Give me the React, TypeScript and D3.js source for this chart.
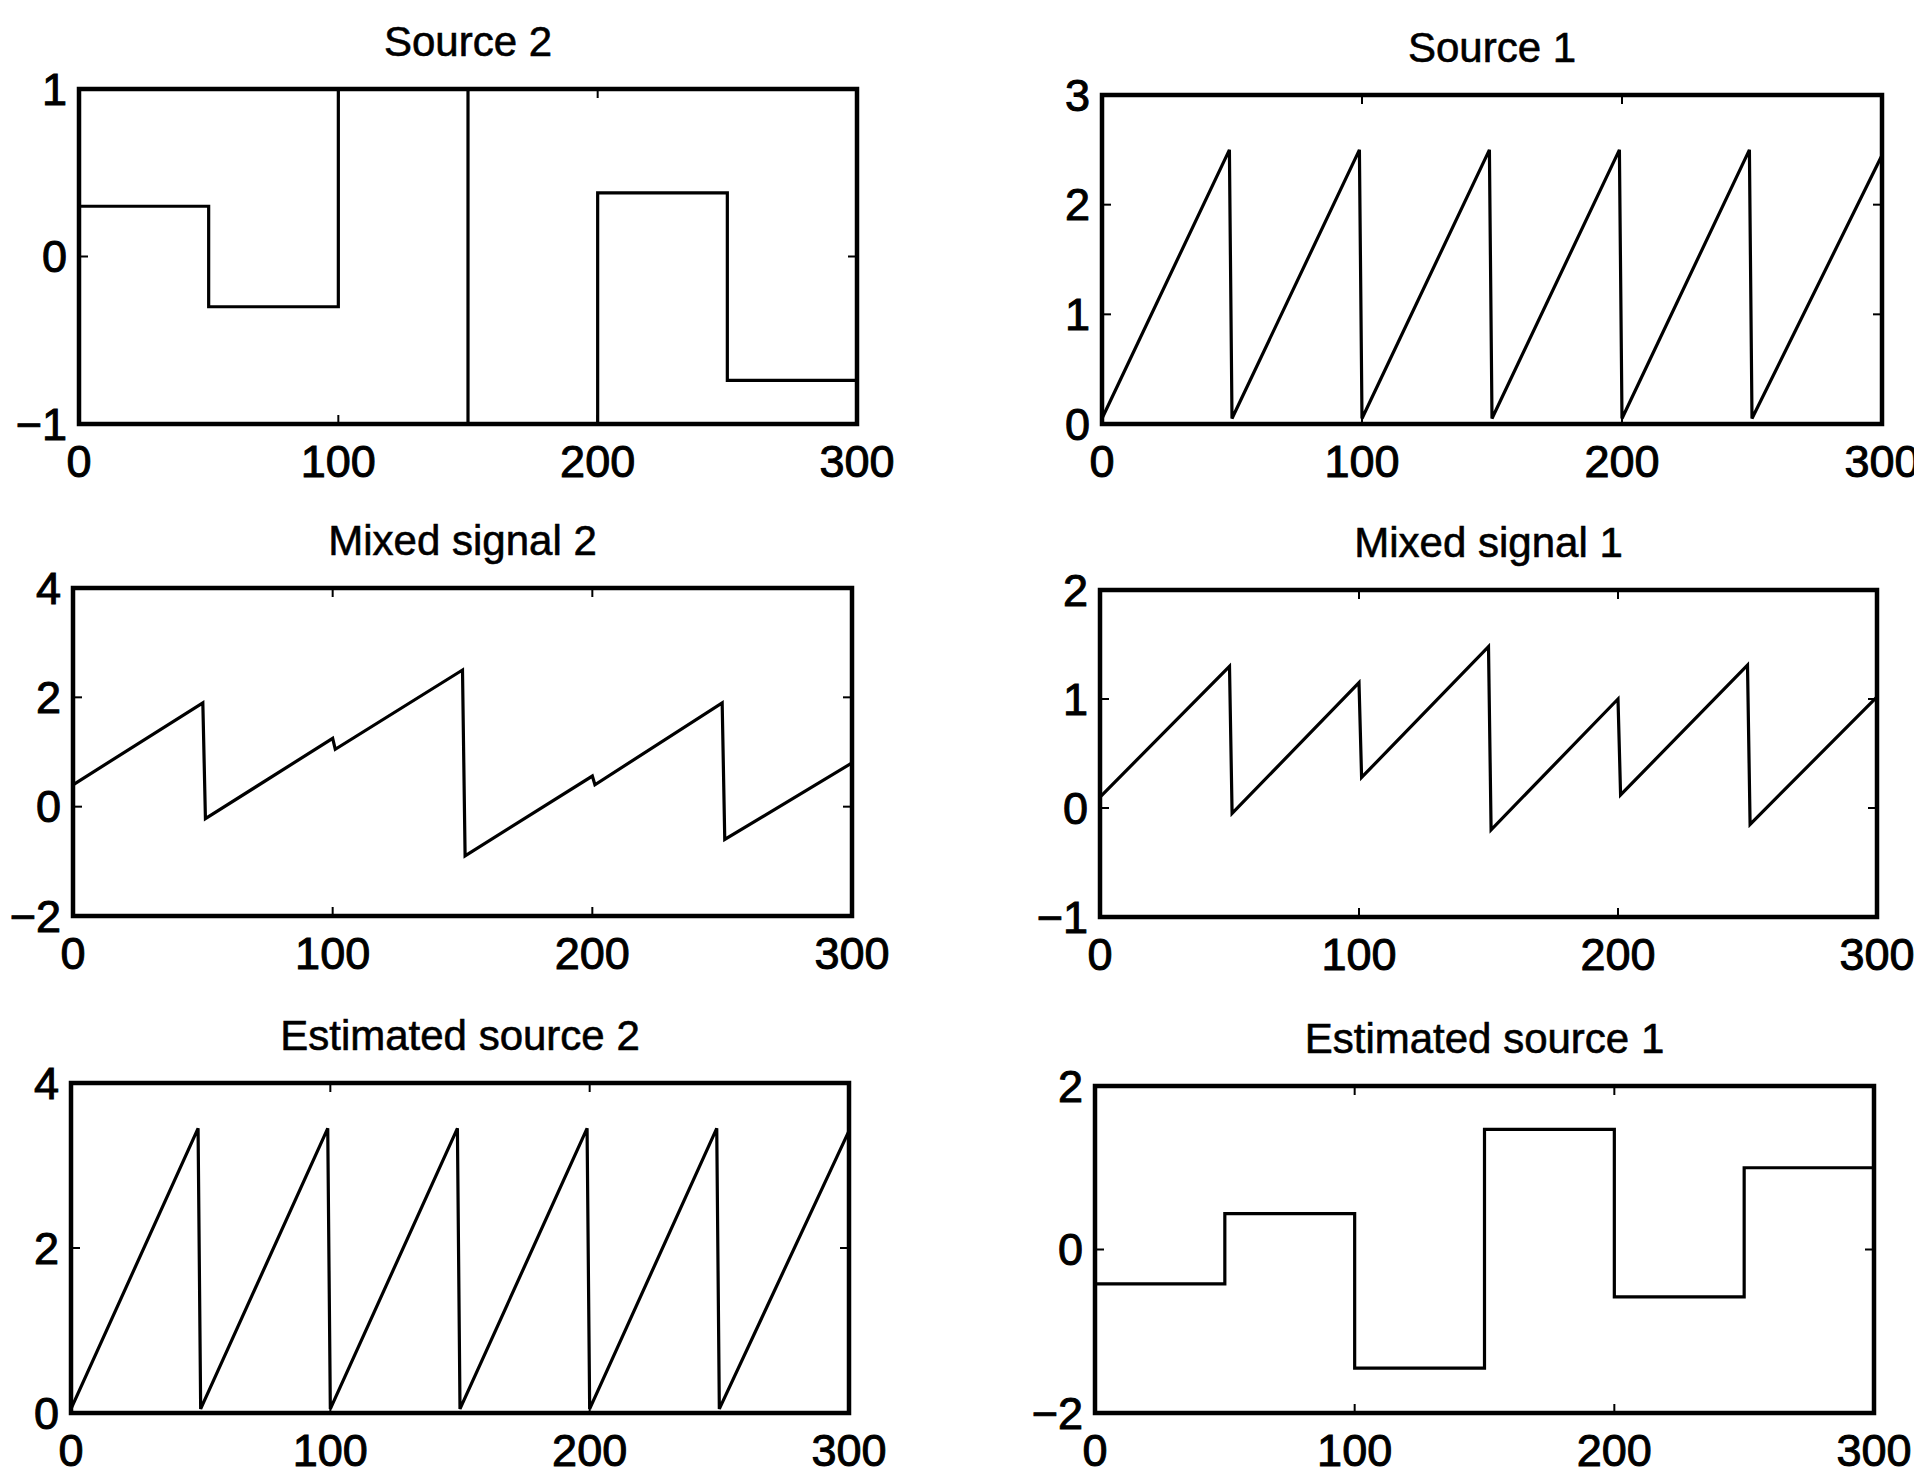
import React from "react";
import * as d3 from "d3";

// x values of the breakpoints (samples 0..300)
const sawX = [0, 49, 50, 99, 100, 149, 150, 199, 200, 249, 250, 300];
const stepX = [0, 50, 50, 100, 100, 150, 150, 200, 200, 250, 250, 300];

// Source 2: piecewise constant
const source2Y = [0.3, 0.3, -0.3, -0.3, 1.0, 1.0, -1.0, -1.0, 0.38, 0.38, -0.74, -0.74];
// Source 1: sawtooth
const source1Y = [0.05, 2.5, 0.05, 2.5, 0.05, 2.5, 0.05, 2.5, 0.05, 2.5, 0.05, 2.45];
// Mixed signal 2 (small notch at 100 and 200)
const mixed2X = [0, 50, 51, 100, 101, 150, 151, 200, 201, 250, 251, 300];
const mixed2Y = [0.4, 1.9, -0.22, 1.25, 1.05, 2.5, -0.9, 0.56, 0.4, 1.9, -0.6, 0.8];
// Mixed signal 1
const mixed1X = [0, 50, 51, 100, 101, 150, 151, 200, 201, 250, 251, 300];
const mixed1Y = [0.1, 1.3, -0.05, 1.15, 0.28, 1.48, -0.2, 1.0, 0.12, 1.31, -0.15, 1.02];
// Estimated source 2: sawtooth
const est2Y = [0.05, 3.45, 0.05, 3.45, 0.05, 3.45, 0.05, 3.45, 0.05, 3.45, 0.05, 3.42];
// Estimated source 1: piecewise constant
const est1Y = [-0.42, -0.42, 0.44, 0.44, -1.45, -1.45, 1.47, 1.47, -0.58, -0.58, 1.0, 1.0];

const xTicks = [0, 100, 200, 300];

type Panel = {
  title: string;
  xs: number[];
  ys: number[];
  yDomain: [number, number];
  yTicks: number[];
  box: [number, number, number, number]; // left, top, right, bottom
};

const panels: Panel[] = [
  { title: "Source 2", xs: stepX, ys: source2Y, yDomain: [-1, 1], yTicks: [-1, 0, 1], box: [79, 89, 857, 424] },
  { title: "Source 1", xs: sawX, ys: source1Y, yDomain: [0, 3], yTicks: [0, 1, 2, 3], box: [1102, 95, 1882, 424] },
  { title: "Mixed signal 2", xs: mixed2X, ys: mixed2Y, yDomain: [-2, 4], yTicks: [-2, 0, 2, 4], box: [73, 588, 852, 916] },
  { title: "Mixed signal 1", xs: mixed1X, ys: mixed1Y, yDomain: [-1, 2], yTicks: [-1, 0, 1, 2], box: [1100, 590, 1877, 917] },
  { title: "Estimated source 2", xs: sawX, ys: est2Y, yDomain: [0, 4], yTicks: [0, 2, 4], box: [71, 1083, 849, 1413] },
  { title: "Estimated source 1", xs: stepX, ys: est1Y, yDomain: [-2, 2], yTicks: [-2, 0, 2], box: [1095, 1086, 1874, 1413] },
];

const fmt = (v: number) => (v < 0 ? "\u2212" + Math.abs(v) : String(v));

const Subplot = ({ p }: { p: Panel }) => {
  const [l, t, r, b] = p.box;
  const x = d3.scaleLinear().domain([0, 300]).range([l, r]);
  const y = d3.scaleLinear().domain(p.yDomain).range([b, t]);
  const pts = p.xs.map((v, i) => [v, p.ys[i]] as [number, number]);
  const line = d3.line<[number, number]>().x((d) => x(d[0])).y((d) => y(d[1]));
  const tl = 9;
  return (
    <g>
      <text x={(l + r) / 2} y={t - 33} textAnchor="middle" fontSize={42} stroke="#000" strokeWidth={0.6}>
        {p.title}
      </text>
      <path d={line(pts) || ""} fill="none" stroke="#000" strokeWidth={3.2} strokeLinejoin="miter" />
      <rect x={l} y={t} width={r - l} height={b - t} fill="none" stroke="#000" strokeWidth={4.5} />
      {xTicks.map((v) => (
        <g key={"x" + v}>
          <line x1={x(v)} x2={x(v)} y1={b} y2={b - tl} stroke="#000" strokeWidth={2} />
          <line x1={x(v)} x2={x(v)} y1={t} y2={t + tl} stroke="#000" strokeWidth={2} />
          <text x={x(v)} y={b + 37} textAnchor="middle" dominantBaseline="central" fontSize={45} stroke="#000" strokeWidth={1}>
            {fmt(v)}
          </text>
        </g>
      ))}
      {p.yTicks.map((v) => (
        <g key={"y" + v}>
          <line x1={l} x2={l + tl} y1={y(v)} y2={y(v)} stroke="#000" strokeWidth={2} />
          <line x1={r} x2={r - tl} y1={y(v)} y2={y(v)} stroke="#000" strokeWidth={2} />
          <text x={l - 12} y={y(v)} textAnchor="end" dominantBaseline="central" fontSize={45} stroke="#000" strokeWidth={1}>
            {fmt(v)}
          </text>
        </g>
      ))}
    </g>
  );
};

export default function App() {
  return (
    <svg
      width={1914}
      height={1476}
      style={{ position: "absolute", left: 0, top: 0, background: "#fff" }}
      fontFamily="'Liberation Sans', Arial, Helvetica, sans-serif"
      fill="#000"
    >
      <rect x={0} y={0} width={1914} height={1476} fill="#fff" />
      {panels.map((p) => (
        <Subplot key={p.title} p={p} />
      ))}
    </svg>
  );
}
